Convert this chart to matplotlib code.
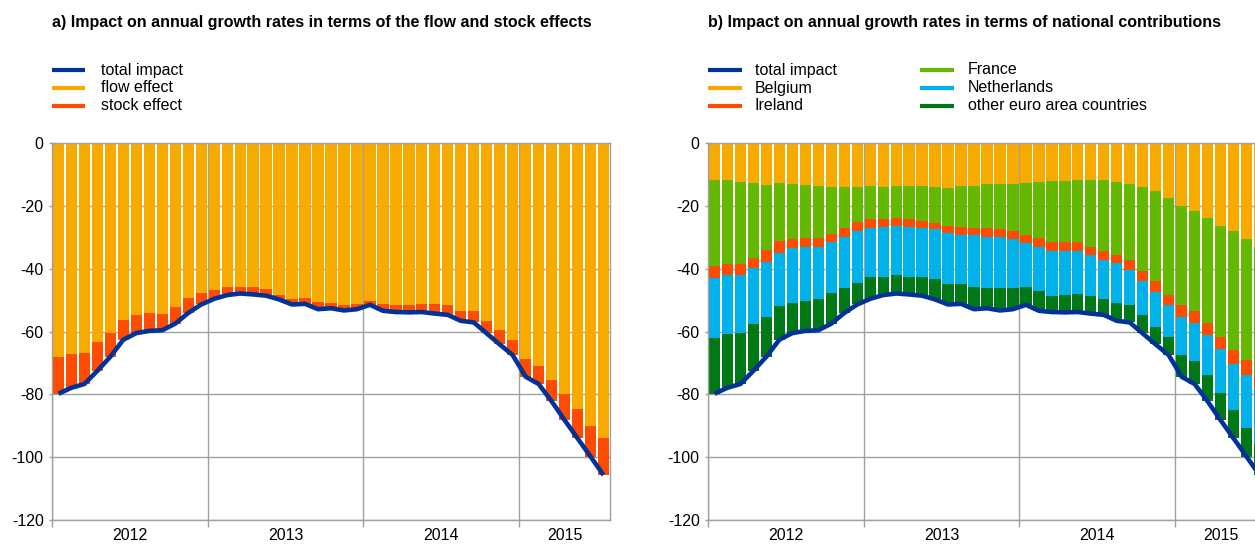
import numpy as np
import matplotlib
matplotlib.use("Agg")
import matplotlib.pyplot as plt
from matplotlib.lines import Line2D

plt.rcParams['font.family'] = ['Liberation Sans', 'DejaVu Sans']
plt.rcParams['axes.unicode_minus'] = False

# ---------------- data ----------------
years = ["2012", "2013", "2014", "2015"]
n_months = 43  # Jan 2012 - Jul 2015

total_impact = [-79.8, -77.9, -76.7, -72.5, -68.0, -62.6, -60.5, -59.8, -59.6, -57.5,
                -54.1, -51.4, -49.6, -48.4, -47.9, -48.2, -48.6, -49.8, -51.4, -51.2,
                -52.9, -52.6, -53.3, -52.9, -51.5, -53.4, -53.8, -53.9, -53.8, -54.3,
                -54.7, -56.6, -57.1, -60.6, -64.1, -67.5, -74.4, -76.7, -82.2, -88.2,
                -94.0, -99.8, -105.7]

flow_effect = [-68.0, -67.2, -66.7, -63.5, -60.5, -56.2, -54.6, -54.0, -54.3, -52.2,
               -49.3, -47.6, -46.7, -45.9, -45.7, -45.9, -46.6, -48.4, -49.7, -49.3,
               -50.5, -50.9, -51.6, -51.4, -50.3, -51.4, -51.6, -51.6, -51.3, -51.3,
               -51.7, -53.4, -53.4, -56.5, -59.4, -62.8, -68.7, -70.9, -75.5, -79.8,
               -84.8, -90.0, -94.0]

stock_effect = [-11.8, -10.7, -10.0, -9.0, -7.5, -6.4, -5.9, -5.8, -5.3, -5.3,
                -4.8, -3.8, -2.9, -2.5, -2.2, -2.3, -2.0, -1.4, -1.7, -1.9,
                -2.4, -1.7, -1.7, -1.5, -1.2, -2.0, -2.2, -2.3, -2.5, -3.0,
                -3.0, -3.2, -3.7, -4.1, -4.7, -4.7, -5.7, -5.8, -6.7, -8.4,
                -9.2, -9.8, -11.7]

belgium = [-11.8, -11.8, -12.4, -12.7, -13.3, -12.7, -13.0, -13.3, -13.6, -13.9,
           -13.9, -13.9, -13.6, -13.9, -13.6, -13.6, -13.6, -13.9, -14.3, -13.6,
           -13.6, -13.0, -12.9, -12.9, -12.7, -12.4, -12.0, -12.0, -11.7, -11.7,
           -11.7, -12.4, -13.0, -13.9, -15.2, -17.4, -20.0, -21.6, -23.8, -26.4,
           -27.9, -30.5, -33.0]

france = [-27.3, -26.6, -26.0, -23.8, -20.7, -18.4, -17.6, -16.9, -16.6, -15.0,
          -13.1, -11.2, -10.6, -10.3, -10.2, -10.6, -11.2, -11.7, -12.0, -13.1,
          -13.4, -14.0, -14.6, -15.0, -16.6, -17.8, -19.4, -19.4, -19.7, -21.4,
          -22.6, -23.2, -24.2, -26.8, -28.7, -30.9, -31.7, -32.0, -33.4, -35.3,
          -37.9, -38.5, -40.7]

ireland = [-3.8, -3.7, -3.7, -3.2, -3.8, -3.9, -2.7, -3.0, -2.9, -2.5,
           -3.0, -3.0, -2.8, -2.6, -2.5, -2.6, -2.2, -1.9, -2.5, -2.5,
           -2.4, -2.8, -2.4, -2.6, -2.5, -2.8, -2.9, -2.9, -2.9, -2.7,
           -2.8, -2.7, -3.1, -3.2, -3.4, -3.2, -3.6, -3.6, -3.8, -4.0,
           -4.4, -4.8, -4.5]

netherlands = [-19.1, -18.8, -18.3, -18.0, -17.5, -17.0, -17.6, -17.0, -16.5, -16.3,
               -16.0, -16.4, -15.8, -16.0, -15.6, -15.8, -15.6, -15.7, -16.0, -15.6,
               -16.4, -16.3, -16.2, -15.6, -14.0, -14.0, -14.3, -14.0, -13.7, -12.8,
               -12.5, -12.6, -11.2, -11.0, -11.2, -10.2, -12.1, -12.1, -12.8, -13.8,
               -14.7, -16.8, -17.5]

other_euro = [-17.8, -17.0, -16.3, -14.8, -12.7, -10.6, -9.6, -9.6, -10.0, -9.8,
              -8.1, -6.9, -6.8, -5.6, -6.0, -5.6, -6.0, -6.6, -6.6, -6.4,
              -7.1, -6.5, -7.2, -6.8, -5.7, -6.4, -5.2, -5.6, -5.8, -5.7,
              -5.1, -5.7, -5.6, -5.7, -5.6, -5.8, -7.0, -7.4, -8.4, -8.7,
              -9.1, -9.2, -10.0]

# ---------------- style ----------------
C_BLUE = '#003299'
C_YELLOW = '#F7AB00'
C_ORANGE = '#FF4B00'
C_LGREEN = '#65B800'
C_LBLUE = '#00B1EA'
C_DGREEN = '#007816'
GRID = '#A0A0A0'
FS = 11.5

W, H = 1255, 545
fig = plt.figure(figsize=(W / 100, H / 100), dpi=100)

def fx(px):
    return px / W

def fy(py):
    return 1 - py / H

axL = fig.add_axes([fx(52), 25 / H, 558 / W, 377 / H])
axR = fig.add_axes([fx(708), 25 / H, 558 / W, 377 / H])

x = np.arange(n_months)
bw = 0.87

def stack(ax, series, colors):
    bottom = np.zeros(n_months)
    for s, c in zip(series, colors):
        s = np.asarray(s)
        ax.bar(x, s, bottom=bottom, width=bw, color=c, linewidth=0, zorder=2)
        bottom = bottom + s
    ax.plot(x, total_impact, color=C_BLUE, lw=3.3, zorder=3,
            solid_capstyle='butt', solid_joinstyle='round')

stack(axL, [flow_effect, stock_effect], [C_YELLOW, C_ORANGE])
stack(axR, [belgium, france, ireland, netherlands, other_euro],
      [C_YELLOW, C_LGREEN, C_ORANGE, C_LBLUE, C_DGREEN])

year_mid = [5.5, 17.5, 29.5, 39.0]
for ax in (axL, axR):
    ax.set_xlim(-0.5, n_months - 0.5)
    ax.set_ylim(-120, 0)
    ax.set_yticks(np.arange(-120, 1, 20))
    ax.set_axisbelow(True)
    ax.yaxis.grid(True, color=GRID, lw=1)
    ax.set_xticks([-0.5, 11.5, 23.5, 35.5])
    ax.set_xticklabels([])
    ax.xaxis.grid(True, color=GRID, lw=1)
    ax.set_xticks(year_mid, minor=True)
    ax.set_xticklabels(years, minor=True)
    ax.tick_params(axis='x', which='major', length=5, color=GRID, width=1)
    ax.tick_params(axis='x', which='minor', length=0, pad=6, labelsize=FS)
    ax.tick_params(axis='y', length=2, color=GRID, width=1, pad=4, labelsize=FS)
    for sp in ax.spines.values():
        sp.set_color(GRID)
        sp.set_linewidth(1)

# titles
fig.text(fx(52), fy(23), "a) Impact on annual growth rates in terms of the flow and stock effects",
         fontsize=FS, fontweight='bold', va='center', ha='left')
fig.text(fx(708), fy(23), "b) Impact on annual growth rates in terms of national contributions",
         fontsize=FS, fontweight='bold', va='center', ha='left')

# legends
def legend_item(x0, x1, xt, yrow, color, label):
    fig.add_artist(Line2D([fx(x0), fx(x1)], [fy(yrow), fy(yrow)],
                          transform=fig.transFigure, color=color, lw=3,
                          solid_capstyle='butt'))
    fig.text(fx(xt), fy(yrow), label, fontsize=FS, va='center', ha='left')

rows = [70, 88, 106]
for r, (c, lab) in zip(rows, [(C_BLUE, 'total impact'), (C_YELLOW, 'flow effect'),
                              (C_ORANGE, 'stock effect')]):
    legend_item(52, 85, 101, r, c, lab)

for r, (c, lab) in zip(rows, [(C_BLUE, 'total impact'), (C_YELLOW, 'Belgium'),
                              (C_ORANGE, 'Ireland')]):
    legend_item(708, 742, 755, r, c, lab)
for r, (c, lab) in zip(rows, [(C_LGREEN, 'France'), (C_LBLUE, 'Netherlands'),
                              (C_DGREEN, 'other euro area countries')]):
    legend_item(920, 954, 968, r, c, lab)

fig.savefig("out.png", dpi=100)
